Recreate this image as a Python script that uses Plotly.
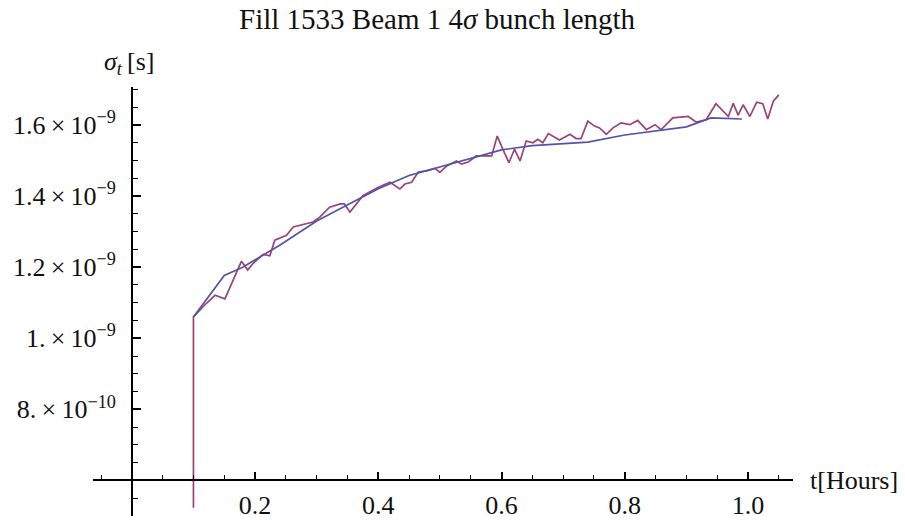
import plotly.graph_objects as go

# Measured bunch length (ns) versus time (hours)
t_meas = [0.100, 0.100, 0.118, 0.135, 0.151, 0.178, 0.188, 0.197, 0.213, 0.224,
          0.232, 0.243, 0.251, 0.262, 0.278, 0.294, 0.305, 0.321, 0.338, 0.345,
          0.354, 0.375, 0.400, 0.419, 0.435, 0.443, 0.454, 0.465, 0.478, 0.492,
          0.500, 0.511, 0.527, 0.535, 0.546, 0.559, 0.584, 0.593, 0.602, 0.612,
          0.621, 0.630, 0.640, 0.651, 0.659, 0.667, 0.676, 0.694, 0.711, 0.721,
          0.729, 0.740, 0.751, 0.759, 0.770, 0.781, 0.794, 0.808, 0.821, 0.835,
          0.849, 0.859, 0.878, 0.903, 0.916, 0.932, 0.948, 0.968, 0.976, 0.984,
          0.992, 1.003, 1.014, 1.024, 1.032, 1.041, 1.050]
sigma_meas_ns = [0.523, 1.060, 1.093, 1.121, 1.111, 1.217, 1.192, 1.211, 1.236, 1.232,
                 1.276, 1.285, 1.290, 1.313, 1.320, 1.327, 1.341, 1.369, 1.378, 1.378,
                 1.355, 1.401, 1.425, 1.439, 1.420, 1.434, 1.439, 1.468, 1.471, 1.478,
                 1.467, 1.485, 1.499, 1.490, 1.496, 1.513, 1.513, 1.569, 1.532, 1.494,
                 1.532, 1.499, 1.555, 1.550, 1.560, 1.550, 1.576, 1.558, 1.574, 1.562,
                 1.562, 1.611, 1.597, 1.592, 1.574, 1.592, 1.606, 1.601, 1.613, 1.587,
                 1.601, 1.587, 1.620, 1.624, 1.608, 1.615, 1.660, 1.624, 1.661, 1.628,
                 1.657, 1.624, 1.664, 1.660, 1.617, 1.667, 1.685]

# Simulated bunch length (ns)
t_sim = [0.10, 0.15, 0.18, 0.24, 0.30, 0.35, 0.40, 0.45, 0.50, 0.55,
         0.60, 0.65, 0.74, 0.80, 0.85, 0.90, 0.94, 0.99]
sigma_sim_ns = [1.060, 1.177, 1.200, 1.262, 1.330, 1.376, 1.421, 1.458, 1.482, 1.508,
                1.530, 1.542, 1.552, 1.572, 1.583, 1.595, 1.620, 1.617]

y_tick_vals = [0.8e-9, 1.0e-9, 1.2e-9, 1.4e-9, 1.6e-9]
y_tick_text = ["8.\u2009×\u200910<sup>−10</sup>", "1.\u2009×\u200910<sup>−9</sup>",
               "1.2\u2009×\u200910<sup>−9</sup>", "1.4\u2009×\u200910<sup>−9</sup>",
               "1.6\u2009×\u200910<sup>−9</sup>"]
x_tick_vals = [0.2, 0.4, 0.6, 0.8, 1.0]
x_tick_text = ["0.2", "0.4", "0.6", "0.8", "1.0"]

SERIF = "Liberation Serif"
FS = 26
RED = "#9b4378"
BLUE = "#5353aa"

x_range = [-0.063, 1.073]
y_range = [0.5e-9, 1.707e-9]
x_cross = 0.0        # y axis sits at t = 0
y_cross = 0.6e-9     # x axis sits at sigma = 6e-10

fig = go.Figure()
fig.add_trace(go.Scatter(x=t_meas, y=[v * 1e-9 for v in sigma_meas_ns], mode="lines",
                         line=dict(color=RED, width=1.7), showlegend=False))
fig.add_trace(go.Scatter(x=t_sim, y=[v * 1e-9 for v in sigma_sim_ns], mode="lines",
                         line=dict(color=BLUE, width=1.7), showlegend=False))

fig.update_layout(
    width=905, height=520,
    margin=dict(l=93, r=112, t=87, b=0, pad=0),
    paper_bgcolor="white", plot_bgcolor="white",
    font=dict(family=SERIF, size=FS, color="#111"),
    xaxis=dict(range=x_range, anchor="free",
               position=(y_cross - y_range[0]) / (y_range[1] - y_range[0]),
               showgrid=False, zeroline=False, showline=True, linecolor="black", linewidth=1.5,
               tickmode="array", tickvals=x_tick_vals, ticktext=x_tick_text,
               ticks="inside", ticklen=8, tickwidth=1.5, tickcolor="black",
               ticklabelstandoff=2,
               minor=dict(ticks="inside", ticklen=5, tickwidth=1.2, tickcolor="black",
                          tickmode="linear", tick0=0, dtick=0.05, showgrid=False),
               tickfont=dict(family=SERIF, size=FS, color="#111")),
    yaxis=dict(range=y_range, anchor="free",
               position=(x_cross - x_range[0]) / (x_range[1] - x_range[0]),
               showgrid=False, zeroline=False, showline=True, linecolor="black", linewidth=1.5,
               tickmode="array", tickvals=y_tick_vals, ticktext=y_tick_text,
               ticks="inside", ticklen=8, tickwidth=1.5, tickcolor="black",
               ticklabelstandoff=10,
               minor=dict(ticks="inside", ticklen=5, tickwidth=1.2, tickcolor="black",
                          tickmode="linear", tick0=0, dtick=0.05e-9, showgrid=False),
               tickfont=dict(family=SERIF, size=FS, color="#111")),
    annotations=[
        dict(text="Fill 1533 Beam 1 4<i>σ</i> bunch length", xref="paper", yref="paper",
             x=(437 - 93) / 700, y=(520 - 18) / 433.3, xanchor="center", yanchor="middle",
             showarrow=False, font=dict(family=SERIF, size=29, color="#111")),
        dict(text="<i>σ</i><sub><i>t</i></sub>\u2009[s]", xref="paper", yref="paper",
             x=(129 - 93) / 700, y=(520 - 62) / 433.3, xanchor="center", yanchor="middle",
             showarrow=False, font=dict(family=SERIF, size=FS, color="#111")),
        dict(text="t[Hours]", xref="paper", yref="paper",
             x=(808 - 93) / 700, y=(520 - 484) / 433.3, xanchor="left", yanchor="middle",
             showarrow=False, font=dict(family=SERIF, size=FS, color="#111")),
    ],
)

fig.write_html("out.html")
